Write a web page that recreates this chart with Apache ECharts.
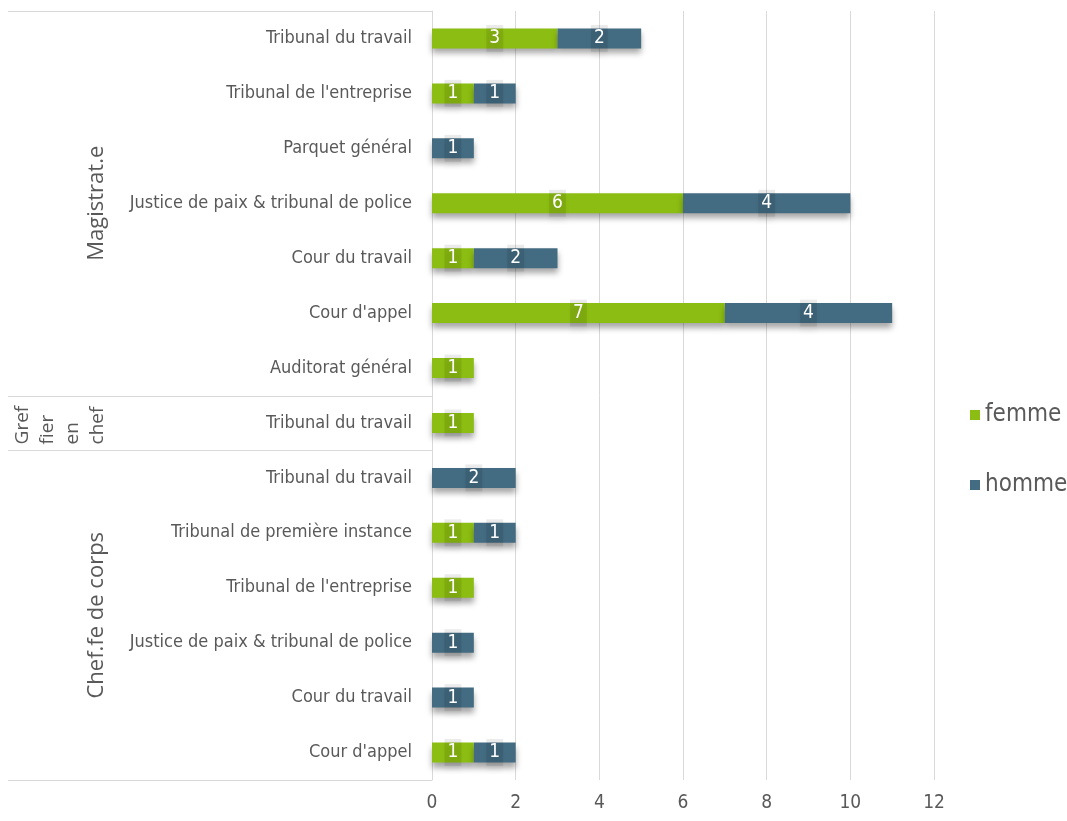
<!DOCTYPE html>
<html>
<head>
<meta charset="utf-8">
<script src="https://cdn.jsdelivr.net/npm/echarts@6/dist/echarts.min.js"></script>
<style>
  html, body { margin: 0; padding: 0; background: #fff; }
  #chart { width: 1067px; height: 821px; }
</style>
</head>
<body>
<div id="chart"></div>
<script>
// categories, top to bottom
const categories = [
    'Tribunal du travail',
    "Tribunal de l'entreprise",
    'Parquet général',
    'Justice de paix & tribunal de police',
    'Cour du travail',
    "Cour d'appel",
    'Auditorat général',
    'Tribunal du travail',
    'Tribunal du travail',
    'Tribunal de première instance',
    "Tribunal de l'entreprise",
    'Justice de paix & tribunal de police',
    'Cour du travail',
    "Cour d'appel"
]
const femme = [3, 1, null, 6, 1, 7, 1, 1, null, 1, 1, null, null, 1]
const homme = [2, 1, 1, 4, 2, 4, null, null, 2, 1, null, 1, 1, 1]

// groups of the multi-level axis
const groupNames = ['Magistrat.e', 'Gref\nfier\nen\nchef', 'Chef.fe de corps']
const groupSizes = [7, 1, 6]

const xTicks = { min: 0, max: 12, interval: 2 }

const FONT = '"Liberation Sans Narrow", "DejaVu Sans Condensed", "Liberation Sans", sans-serif'
const GROUP_FONT = '"Open Sans", "Noto Sans", sans-serif'
const TEXT = '#595959'
const LINE = '#d9d9d9'

const chart = echarts.init(document.getElementById('chart'))

const labelCfg = {
    show: true,
    position: 'inside',
    color: '#fff',
    fontFamily: FONT,
    fontSize: 19,
    backgroundColor: 'rgba(0,0,0,0.08)',
    padding: [3, 3, 5, 3],
    shadowColor: 'rgba(0,0,0,0.4)',
    shadowBlur: 5,
    shadowOffsetY: 6,
    formatter: p => (p.value ? p.value : '')
}

const barShadow = {
    shadowColor: 'rgba(0,0,0,0.35)',
    shadowBlur: 6,
    shadowOffsetY: 5
}

chart.setOption({
    animation: false,
    backgroundColor: '#fff',
    grid: { left: 432, right: 133, top: 11, bottom: 41, containLabel: false },
    legend: {
        orient: 'vertical',
        left: 965,
        top: 398,
        itemGap: 46,
        itemWidth: 10,
        itemHeight: 10,
        icon: 'rect',
        textStyle: { color: TEXT, fontSize: 24, fontFamily: FONT },
        data: ['femme', 'homme']
    },
    xAxis: {
        type: 'value',
        min: xTicks.min,
        max: xTicks.max,
        interval: xTicks.interval,
        axisLine: { show: false },
        axisTick: { show: false },
        axisLabel: { color: TEXT, fontSize: 19, fontFamily: FONT, margin: 14 },
        splitLine: { lineStyle: { color: LINE, width: 1 } }
    },
    yAxis: {
        type: 'category',
        inverse: true,
        data: categories,
        axisLine: { show: true, lineStyle: { color: LINE } },
        axisTick: { show: false },
        axisLabel: { color: TEXT, fontSize: 18, fontFamily: FONT, margin: 20 }
    },
    series: [
        {
            name: 'femme',
            type: 'bar',
            stack: 'total',
            barWidth: 20,
            data: femme,
            itemStyle: Object.assign({ color: '#8cbd12' }, barShadow),
            label: labelCfg
        },
        {
            name: 'homme',
            type: 'bar',
            stack: 'total',
            barWidth: 20,
            data: homme,
            itemStyle: Object.assign({ color: '#436b81' }, barShadow),
            label: labelCfg
        }
    ]
})

// group separators and rotated group labels, placed from the axis scale
function drawGroups() {
    const p0 = chart.convertToPixel({ yAxisIndex: 0 }, 0)
    const p1 = chart.convertToPixel({ yAxisIndex: 0 }, 1)
    const half = Math.abs(p1 - p0) / 2
    const xAxisX = chart.convertToPixel({ xAxisIndex: 0 }, 0)
    const left = 8
    const elements = []
    let start = 0
    const bounds = [p0 - half]
    groupSizes.forEach(n => {
        const last = start + n - 1
        bounds.push(chart.convertToPixel({ yAxisIndex: 0 }, last) + half)
        start += n
    })
    bounds.forEach(y => {
        elements.push({
            type: 'line',
            shape: { x1: left, y1: Math.round(y) + 0.5, x2: xAxisX, y2: Math.round(y) + 0.5 },
            style: { stroke: LINE, lineWidth: 1 },
            silent: true
        })
    })
    groupNames.forEach((name, i) => {
        const top = bounds[i]
        const bottom = bounds[i + 1]
        const multi = name.indexOf('\n') >= 0
        elements.push({
            type: 'text',
            x: multi ? 60 : 97,
            y: multi ? bottom - 6 : (top + bottom) / 2,
            rotation: Math.PI / 2,
            style: {
                text: name,
                fill: TEXT,
                font: (multi ? '19px ' : '22px ') + GROUP_FONT,
                lineHeight: 25,
                align: multi ? 'left' : 'center',
                verticalAlign: 'middle'
            },
            silent: true
        })
    })
    chart.setOption({ graphic: { elements: elements } })
}
drawGroups()
</script>
</body>
</html>
